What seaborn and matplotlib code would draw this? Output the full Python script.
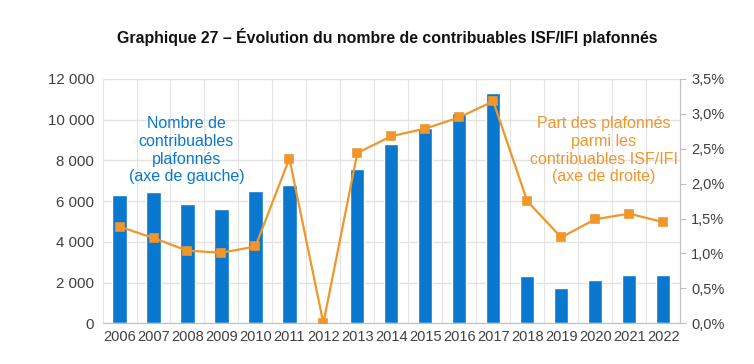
import numpy as np
import pandas as pd
import matplotlib
matplotlib.use("Agg")
import matplotlib.pyplot as plt
import matplotlib.ticker as mticker
import seaborn as sns

# ============================================
# Data
# ============================================

years = [str(y) for y in range(2006, 2023)]

# nombre de contribuables plafonnés (axe de gauche)
nb_plafonnes = [6300, 6430, 5880, 5620, 6480, 6780, 0, 7570, 8830,
                9590, 10330, 11310, 2300, 1710, 2100, 2350, 2350]

# part des plafonnés parmi les contribuables ISF/IFI (axe de droite)
part_plafonnes = [0.01385, 0.0122, 0.0104, 0.0101, 0.0110, 0.0236, 0.0,
                  0.0244, 0.0268, 0.0279, 0.0295, 0.0318, 0.0175, 0.0123,
                  0.0149, 0.0157, 0.0145]

left_ticks = [0, 2000, 4000, 6000, 8000, 10000, 12000]
right_ticks = [0, 0.005, 0.01, 0.015, 0.02, 0.025, 0.03, 0.035]

df = pd.DataFrame({"annee": years, "nombre": nb_plafonnes, "part": part_plafonnes})

# ============================================
# Style
# ============================================

blue = "#0b78cf"
orange = "#f0962a"
grid_col = "#e3e3e3"
txt_col = "#404040"

sns.set_style("white")
plt.rcParams["font.family"] = ["Liberation Sans", "DejaVu Sans"]

fig = plt.figure(figsize=(7.54, 3.64), dpi=100)
ax = fig.add_axes([0.136, 0.112, 0.766, 0.671])

# ============================================
# Bars (left axis)
# ============================================

sns.barplot(data=df, x="annee", y="nombre", color=blue, width=0.42,
            saturation=1, ax=ax, zorder=2)

ax.set_ylim(0, 12000)
ax.set_xlim(-0.5, len(years) - 0.5)
ax.set_yticks(left_ticks)
ax.yaxis.set_major_formatter(mticker.FuncFormatter(
    lambda v, p: f"{int(v):,}".replace(",", " ")))
ax.set_xlabel("")
ax.set_ylabel("")

# grid: horizontal at ticks, vertical between categories
ax.set_xticks(np.arange(-0.5, len(years), 1), minor=True)
ax.grid(axis="y", which="major", color=grid_col, linewidth=1, zorder=0)
ax.grid(axis="x", which="minor", color=grid_col, linewidth=0.8, zorder=0)
ax.set_axisbelow(True)

ax.tick_params(axis="x", which="both", length=0, labelsize=10.5,
               colors=txt_col, pad=5)
ax.tick_params(axis="y", length=0, labelsize=10.8, colors=txt_col, pad=6)

for s in ["top", "left", "right"]:
    ax.spines[s].set_visible(False)
ax.spines["bottom"].set_color("#bfbfbf")

# ============================================
# Line (right axis)
# ============================================

ax2 = ax.twinx()
sns.pointplot(data=df, x="annee", y="part", color=orange, marker="s",
              markersize=6, linewidth=1.6, ax=ax2)
ax2.set_ylim(0, 0.035)
ax2.set_xlim(-0.5, len(years) - 0.5)
ax2.set_yticks(right_ticks)
ax2.yaxis.set_major_formatter(mticker.FuncFormatter(
    lambda v, p: f"{v * 100:.1f}%".replace(".", ",")))
ax2.set_ylabel("")
ax2.set_xlabel("")
ax2.tick_params(axis="y", length=4, labelsize=10.5, colors=txt_col, pad=4)
ax2.tick_params(axis="y", color="#bfbfbf")
for s in ["top", "left", "bottom"]:
    ax2.spines[s].set_visible(False)
ax2.spines["right"].set_color("#bfbfbf")

# ============================================
# Annotations & title
# ============================================

ax.text(1.97, 8500, "Nombre de\ncontribuables\nplafonnés\n(axe de gauche)",
        color=blue, fontsize=11.5, ha="center", va="center", linespacing=1.22)
ax.text(14.25, 8500, "Part des plafonnés\nparmi les\ncontribuables ISF/IFI\n(axe de droite)",
        color=orange, fontsize=11.5, ha="center", va="center", linespacing=1.22)

fig.suptitle("Graphique 27 – Évolution du nombre de contribuables ISF/IFI plafonnés",
             fontsize=11.4, fontweight="bold", x=0.513, y=0.922, color="#111111")

plt.savefig("out.png", dpi=100)
plt.close()
